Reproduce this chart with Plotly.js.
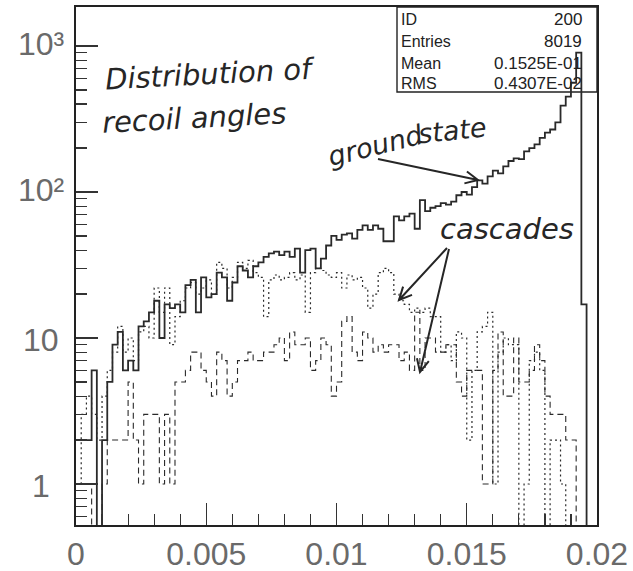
<!DOCTYPE html>
<html>
<head>
<meta charset="utf-8">
<script src="https://cdn.plot.ly/plotly-3.0.1.min.js"></script>
<style>
  html, body { margin: 0; padding: 0; background: #fff; }
  #plot { width: 633px; height: 571px; }
</style>
</head>
<body>
<div id="plot"></div>
<script>
// Histogram definition: 100 bins between 0 and 0.02 rad
const nBins = 100;
const xLow = 0.0;
const xHigh = 0.02;

// Counts per bin, ground state (solid)
const groundState = [
  2, 2, 2, 6, 0, 2, 5, 9, 11, 6,
  7, 6, 12, 13, 15, 18, 10, 17, 16, 17,
  15, 23, 25, 15, 26, 19, 20, 28, 26, 18,
  24, 31, 29, 26, 31, 33, 36, 38, 39, 37,
  39, 36, 41, 28, 40, 41, 30, 35, 43, 50,
  47, 51, 52, 48, 55, 59, 55, 59, 56, 46,
  46, 68, 64, 68, 71, 56, 88, 74, 78, 80,
  84, 82, 86, 95, 100, 96, 108, 120, 114, 128,
  140, 134, 150, 163, 170, 168, 190, 200, 212, 235,
  255, 268, 300, 390, 450, 560, 900, 17, 0, 0
];

// Counts per bin, first cascade (dotted)
const cascadeDotted = [
  1, 3, 4, 3, 2, 4, 6, 8, 12, 8,
  10, 7, 11, 12, 10, 22, 15, 22, 9, 14,
  18, 22, 24, 20, 22, 25, 20, 33, 30, 22,
  26, 33, 30, 34, 28, 26, 14, 25, 27, 25,
  26, 28, 25, 27, 15, 28, 30, 29, 27, 26,
  28, 22, 27, 25, 26, 22, 16, 20, 28, 30,
  28, 20, 18, 17, 15, 16, 15, 16, 14, 14,
  8, 9, 7, 11, 10, 2, 6, 11, 12, 15,
  1, 8, 10, 9, 9, 0, 1, 7, 8, 6,
  0, 2, 2, 1, 0, 0, 0, 0, 0, 0
];

// Counts per bin, second cascade (dashed)
const cascadeDashed = [
  1, 1, 1, 0, 0, 1, 2, 2, 2, 2,
  5, 2, 1, 3, 3, 3, 1, 3, 1, 5,
  5, 6, 8, 8, 6, 5, 4, 8, 7, 4,
  5, 7, 7, 8, 7, 7, 8, 8, 9, 10,
  7, 11, 9, 9, 10, 6, 7, 10, 9, 4,
  5, 13, 14, 8, 7, 11, 10, 8, 9, 8,
  9, 9, 7, 8, 6, 15, 6, 10, 10, 8,
  8, 9, 9, 5, 4, 6, 6, 6, 1, 1,
  6, 11, 4, 4, 10, 5, 5, 6, 9, 7,
  4, 3, 3, 3, 2, 2, 0, 0, 0, 0
];

// Axis labels
const xTickVals = [0, 0.005, 0.01, 0.015, 0.02];
const xTickText = ['0', '0.005', '0.01', '0.015', '0.02'];
const yTickVals = [1, 10, 100, 1000];
const yTickText = ['1', '10', '10²', '10³'];

// Statistics panel
const statNames = ['ID', 'Entries', 'Mean', 'RMS'];
const statValues = ['200', '8019', '0.1525E-01', '0.4307E-02'];

// Log axis cannot show empty bins; park them below the visible range
const EMPTY_FLOOR = 0.05;

function stepTrace(counts, dash, width) {
  const w = (xHigh - xLow) / nBins;
  const xs = [], ys = [];
  for (let i = 0; i < counts.length; i++) {
    xs.push(xLow + i * w);
    ys.push(counts[i] > 0 ? counts[i] : EMPTY_FLOOR);
  }
  xs.push(xHigh);
  ys.push(counts[counts.length - 1] > 0 ? counts[counts.length - 1] : EMPTY_FLOOR);
  return {
    type: 'scatter', mode: 'lines', x: xs, y: ys,
    line: { shape: 'hv', color: '#2a2a2a', width: width, dash: dash },
    hoverinfo: 'skip', showlegend: false
  };
}

const traces = [
  stepTrace(cascadeDashed, '6px,4px', 1.1),
  stepTrace(cascadeDotted, '2px,3px', 1.2),
  stepTrace(groundState, 'solid', 1.8)
];

// minor ticks on the log axis: 2..9 of every decade
const yMinor = [];
[0.1, 1, 10, 100].forEach(d => { for (let m = 2; m <= 9; m++) yMinor.push(m * d); });

// plot-area pixel helpers for the overlay texts
const L = 76, R = 597, T = 7, B = 525;
const px = v => (v - L) / (R - L);
const py = v => (B - v) / (B - T);

const ink = '#262626';
const hand = { family: 'DejaVu Sans', size: 29, color: ink };
const statName = { family: 'Liberation Sans, Arial', size: 16, color: '#222' };
const statVal = { family: 'Liberation Sans, Arial', size: 17, color: '#222' };
const tickFont = { family: 'Liberation Sans, Arial', size: 32, color: '#6a6a6a' };

const annotations = [];
statNames.forEach((n, i) => {
  const yc = [20, 42, 63, 83][i];
  annotations.push({ xref: 'paper', yref: 'paper', x: px(399), y: py(yc), xanchor: 'left', yanchor: 'middle',
    text: n, showarrow: false, font: statName });
  annotations.push({ xref: 'paper', yref: 'paper', x: px(584), y: py(yc), xanchor: 'right', yanchor: 'middle',
    text: statValues[i], showarrow: false, font: statVal });
});

// decade labels of the log axis, centred in the left margin
yTickVals.forEach((v, i) => {
  annotations.push({ xref: 'paper', yref: 'y', x: px(41), y: Math.log10(v), xanchor: 'center', yanchor: 'middle',
    yshift: i >= 2 ? 2 : -2, text: yTickText[i], showarrow: false, font: tickFont });
});

// handwritten notes
annotations.push({ xref: 'paper', yref: 'paper', x: px(102), y: py(74), xanchor: 'left', yanchor: 'middle',
  text: '<i>Distribution of</i>', showarrow: false, font: hand, textangle: -3 });
annotations.push({ xref: 'paper', yref: 'paper', x: px(99), y: py(118), xanchor: 'left', yanchor: 'middle',
  text: '<i>recoil angles</i>', showarrow: false, font: hand, textangle: -3 });
annotations.push({ xref: 'paper', yref: 'paper', x: px(322), y: py(145), xanchor: 'left', yanchor: 'middle',
  text: '<i>ground</i>', showarrow: false, font: { ...hand, size: 27 }, textangle: -14 });
annotations.push({ xref: 'paper', yref: 'paper', x: px(414), y: py(130), xanchor: 'left', yanchor: 'middle',
  text: '<i>state</i>', showarrow: false, font: { ...hand, size: 27 }, textangle: -6 });
annotations.push({ xref: 'paper', yref: 'paper', x: px(438), y: py(229), xanchor: 'left', yanchor: 'middle',
  text: '<i>cascades</i>', showarrow: false, font: hand, textangle: 0 });

// hand-drawn arrows: shaft plus an open V head, in plot-area pixels
function arrowPath(tx, ty, hx, hy) {
  const a = Math.atan2(hy - ty, hx - tx), len = 14, spread = 0.45;
  const p1 = [hx - len * Math.cos(a - spread), hy - len * Math.sin(a - spread)];
  const p2 = [hx - len * Math.cos(a + spread), hy - len * Math.sin(a + spread)];
  const P = (x, y) => px(x) + ',' + py(y);
  return {
    type: 'path', xref: 'paper', yref: 'paper',
    path: 'M' + P(tx, ty) + ' L' + P(hx, hy) + ' M' + P(p1[0], p1[1]) + ' L' + P(hx, hy) + ' L' + P(p2[0], p2[1]),
    line: { color: ink, width: 2 }, layer: 'above'
  };
}

const layout = {
  width: 633, height: 571,
  margin: { l: L, r: 633 - R, t: T, b: 571 - B, pad: 0 },
  paper_bgcolor: '#ffffff', plot_bgcolor: '#ffffff',
  showlegend: false,
  xaxis: {
    range: [xLow, xHigh], tickmode: 'array', tickvals: xTickVals, ticktext: xTickText,
    ticks: 'inside', ticklen: 22, tickwidth: 1.3, tickcolor: '#333',
    minor: { tickmode: 'linear', tick0: 0, dtick: 0.001, ticks: 'inside', ticklen: 11, tickwidth: 1.2, tickcolor: '#333', showgrid: false },
    showline: true, linecolor: '#222', linewidth: 1.6, mirror: true,
    showgrid: false, zeroline: false, ticklabelstandoff: 0,
    tickfont: tickFont
  },
  yaxis: {
    type: 'log', range: [Math.log10(0.524), Math.log10(1849)],
    tickmode: 'array', tickvals: yTickVals, showticklabels: false,
    ticks: 'inside', ticklen: 22, tickwidth: 1.3, tickcolor: '#333',
    minor: { tickmode: 'array', tickvals: yMinor, ticks: 'inside', ticklen: 11, tickwidth: 1.2, tickcolor: '#333', showgrid: false },
    showline: true, linecolor: '#222', linewidth: 1.6, mirror: true,
    showgrid: false, zeroline: false
  },
  shapes: [
    { type: 'rect', xref: 'paper', yref: 'paper', x0: px(397), x1: 1, y0: py(92), y1: 1,
      fillcolor: '#ffffff', line: { color: '#222', width: 1.4 }, layer: 'below' },
    arrowPath(378, 159, 478, 180),
    arrowPath(447, 248, 399, 300),
    arrowPath(449, 249, 420, 372)
  ],
  annotations: annotations
};

Plotly.newPlot('plot', traces, layout, { staticPlot: true, displayModeBar: false });
</script>
</body>
</html>
